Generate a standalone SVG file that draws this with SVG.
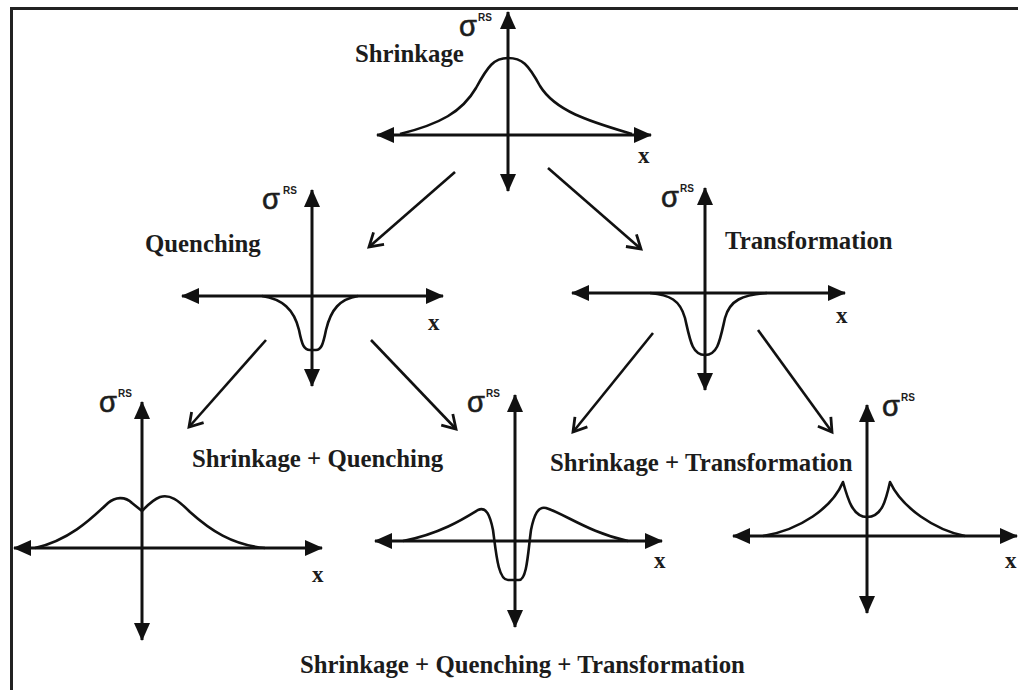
<svg xmlns="http://www.w3.org/2000/svg" width="1018" height="690" viewBox="0 0 1018 690">
<style>
.axis{stroke:#111;stroke-width:3;fill:none;marker-start:url(#tri);marker-end:url(#tri)}
.curve{stroke:#111;stroke-width:2.6;fill:none;stroke-linejoin:round}
.lbl{font-family:"Liberation Serif","Times New Roman",serif;font-weight:bold;font-size:24.8px;fill:#1c1c1c}
.xl{font-family:"Liberation Serif","Times New Roman",serif;font-weight:bold;font-size:23px;fill:#1c1c1c}
.sig{font-family:"Liberation Sans",Arial,sans-serif;font-size:29px;fill:#1c1c1c;stroke:#1c1c1c;stroke-width:0.6}
.rs{font-family:"Liberation Sans",Arial,sans-serif;font-weight:bold;font-size:10px;fill:#1c1c1c}
.conn{stroke:#111;stroke-width:2.6;fill:none;marker-end:url(#open)}
</style>
<defs>
<marker id="tri" markerUnits="userSpaceOnUse" viewBox="0 0 18 16" markerWidth="18" markerHeight="16" refX="17" refY="8" orient="auto-start-reverse">
<path d="M0,0 L18,8 L0,16 Z" fill="#111"/>
</marker>
<marker id="open" markerUnits="userSpaceOnUse" viewBox="0 0 20 20" markerWidth="20" markerHeight="20" refX="17" refY="10" orient="auto">
<path d="M4,2 L17,10 L4,18" fill="none" stroke="#111" stroke-width="2.8" stroke-linejoin="miter"/>
</marker>
</defs>
<rect width="1018" height="690" fill="#fff"/>
<g id="frame">
<path d="M11.5,690 L11.5,8.5 L1018,8.5" fill="none" stroke="#222" stroke-width="3"/>
</g>
<g id="shrinkage">
<path class="axis" d="M377,135 L651,135"/>
<path class="axis" d="M508,191 L508,12"/>
<path class="curve" d="M400,134 C440,124 462,112 476,88 C488,66 494,58 508,58 C522,58 528,64 540,86 C556,112 592,122 632,134"/>
<text class="lbl" x="355" y="62">Shrinkage</text>
<text class="sig" x="459" y="36">σ</text><text class="rs" x="478" y="21">RS</text>
<text class="xl" x="638" y="163">x</text>
</g>
<g id="quenching">
<path class="axis" d="M182,296 L443,296"/>
<path class="axis" d="M312,386 L312,190"/>
<path class="curve" d="M262,296 C282,299 294,309 299,330 C302,345 304,350 310,350 L316,350 C321,350 323,345 326,330 C331,309 340,299 358,296"/>
<text class="lbl" x="145" y="252">Quenching</text>
<text class="sig" x="262" y="209">σ</text><text class="rs" x="283" y="194">RS</text>
<text class="xl" x="428" y="330">x</text>
</g>
<g id="transformation">
<path class="axis" d="M572,293 L845,293"/>
<path class="axis" d="M705,390 L705,188"/>
<path class="curve" d="M650,293 C670,295 680,300 685,318 C690,340 692,355 705,355 C718,355 720,340 725,318 C730,300 742,295 767,293"/>
<text class="lbl" x="725" y="249">Transformation</text>
<text class="sig" x="661" y="207">σ</text><text class="rs" x="680" y="192">RS</text>
<text class="xl" x="836" y="323">x</text>
</g>
<g id="shrinkage-quenching">
<path class="axis" d="M14,548 L322,548"/>
<path class="axis" d="M142,640 L142,402"/>
<path class="curve" d="M35,548 C70,540 92,518 108,503 C115,497 125,496 132,503 L142,511 C146,507 152,500 160,497 C170,494 178,500 190,512 C210,530 232,545 265,548"/>
<text class="lbl" x="192" y="467">Shrinkage + Quenching</text>
<text class="sig" x="99" y="412">σ</text><text class="rs" x="118" y="397">RS</text>
<text class="xl" x="312" y="582">x</text>
</g>
<g id="shrinkage-quenching-transformation">
<path class="axis" d="M375,541 L662,541"/>
<path class="axis" d="M515,627 L515,395"/>
<path class="curve" d="M403,541 C440,534 465,518 478,510 C486,506 490,515 493,530 C496,552 498,580 508,580 L519,580 C527,580 528,552 531,530 C534,515 538,506 546,508 C565,514 590,533 628,541"/>
<text class="lbl" x="300" y="673">Shrinkage + Quenching + Transformation</text>
<text class="sig" x="467" y="412">σ</text><text class="rs" x="486" y="397">RS</text>
<text class="xl" x="654" y="568">x</text>
</g>
<g id="shrinkage-transformation">
<path class="axis" d="M733,536 L1017,536"/>
<path class="axis" d="M867,613 L867,405"/>
<path class="curve" d="M763,536 C800,530 832,508 843,482 C848,500 853,517 867,517 C882,517 886,500 890,482 C902,508 935,530 965,536"/>
<text class="lbl" x="550" y="471">Shrinkage + Transformation</text>
<text class="sig" x="882" y="416">σ</text><text class="rs" x="901" y="401">RS</text>
<text class="xl" x="1005" y="568">x</text>
</g>
<g id="connectors">
<path class="conn" d="M455,172 L369,247"/>
<path class="conn" d="M548,168 L641,249"/>
<path class="conn" d="M266,340 L189,427"/>
<path class="conn" d="M371,340 L456,429"/>
<path class="conn" d="M653,333 L573,432"/>
<path class="conn" d="M758,330 L832,432"/>
</g>
</svg>
